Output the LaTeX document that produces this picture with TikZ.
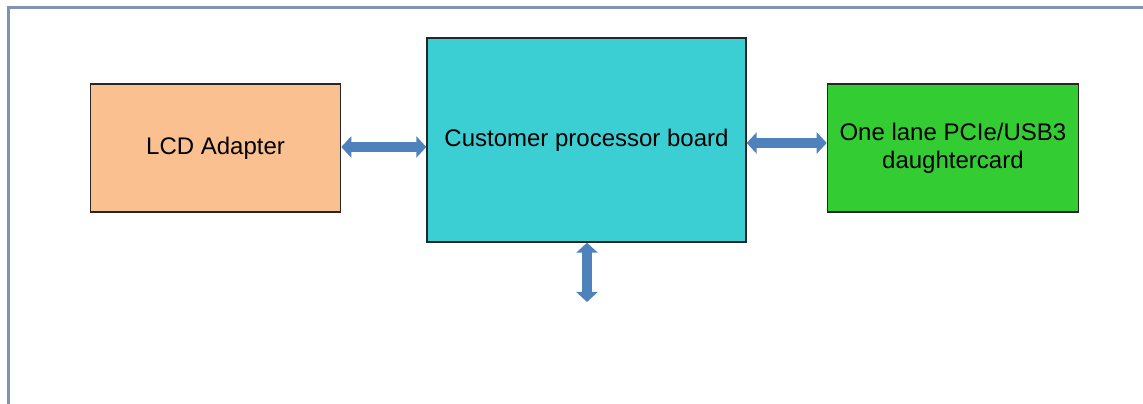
\documentclass[tikz,border=0pt]{standalone}
\usepackage{fontspec}
\setmainfont{Liberation Sans}
\usetikzlibrary{arrows.meta,positioning}

\definecolor{lcdpeach}{HTML}{FAC090}
\definecolor{boardcyan}{HTML}{3BCFD4}
\definecolor{cardgreen}{HTML}{33CC33}
\definecolor{busblue}{HTML}{4F81BD}
\definecolor{framegray}{HTML}{7F93B3}

\begin{document}
\begin{tikzpicture}[x=1pt, y=1pt,
		block/.style={draw=black!85, line width=1.4pt, inner sep=0pt, align=center,
			font=\fontsize{24}{28}\selectfont},
		link/.style={busblue, line width=10pt,
			{Triangle[length=10pt,width=21pt]}-{Triangle[length=10pt,width=21pt]}},
	]
		\useasboundingbox (0,0) rectangle (1143,404);
		\draw[framegray, line width=3pt] (8,0) -- (8,396) -- (1143,396);
		
		\node (board) [block, fill=boardcyan, minimum width=319pt, minimum height=204pt] at (586.5,264) {Customer processor board};
		\node (lcd) [block, fill=lcdpeach, minimum width=250pt, minimum height=128pt, left=85pt of board, yshift=-8pt] {LCD Adapter};
		\node (card) [block, fill=cardgreen, minimum width=251pt, minimum height=128pt, right=80pt of board, yshift=-8pt] {One lane PCIe/USB3\\daughtercard};
		\coordinate (bus) at (587,102);
		
		\draw[link] ([yshift=1pt]lcd.east) -- ([yshift=1pt]lcd.east -| board.west) ;
		\draw[link] ([yshift=-3pt]board.east) -- ([yshift=-3pt]board.east -| card.west);
		\draw[link] (board.south -| bus) -- (bus);
	\end{tikzpicture}
\end{document}
